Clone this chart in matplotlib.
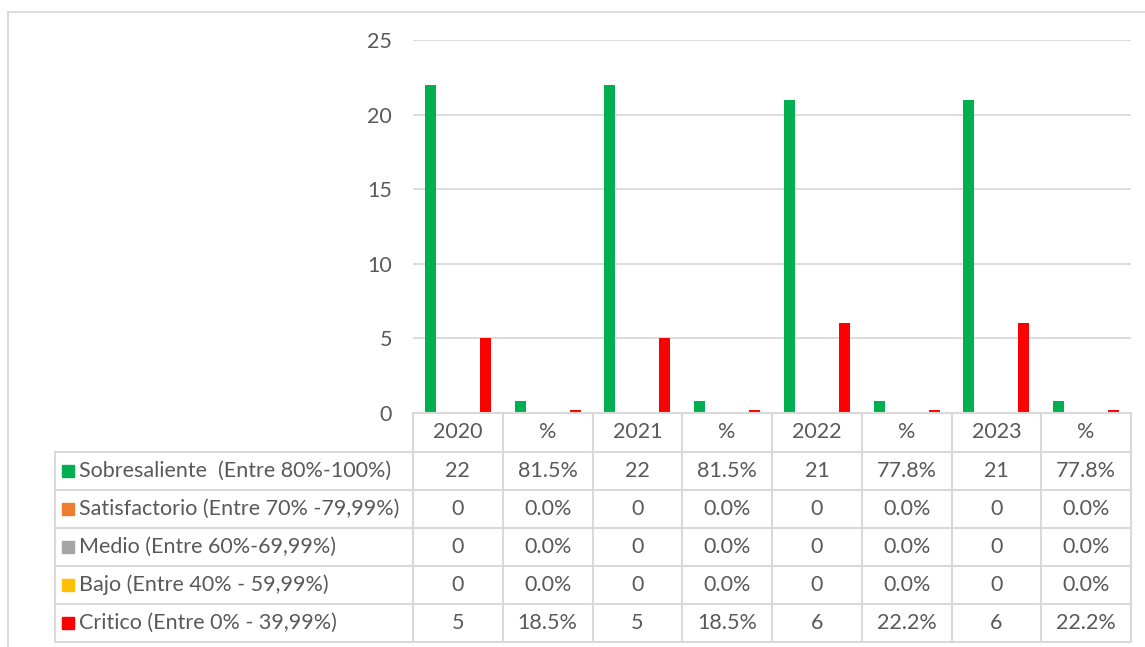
import matplotlib
matplotlib.use('Agg')
import matplotlib.pyplot as plt
from matplotlib.lines import Line2D
from matplotlib.patches import Rectangle

# datos de la tabla
columnas = ['2020', '%', '2021', '%', '2022', '%', '2023', '%']
series = [
    'Sobresaliente  (Entre 80%-100%)',
    'Satisfactorio (Entre 70% -79,99%)',
    'Medio (Entre 60%-69,99%)',
    'Bajo (Entre 40% - 59,99%)',
    'Critico (Entre 0% - 39,99%)',
]
sobresaliente = [22, 0.815, 22, 0.815, 21, 0.778, 21, 0.778]
satisfactorio = [0, 0.0, 0, 0.0, 0, 0.0, 0, 0.0]
medio = [0, 0.0, 0, 0.0, 0, 0.0, 0, 0.0]
bajo = [0, 0.0, 0, 0.0, 0, 0.0, 0, 0.0]
critico = [5, 0.185, 5, 0.185, 6, 0.222, 6, 0.222]
colores = ['#00B050', '#ED7D31', '#A5A5A5', '#FFC000', '#FF0000']

valores = [sobresaliente, satisfactorio, medio, bajo, critico]

W, H = 1145, 647
plt.rcParams['font.family'] = ['Lato', 'DejaVu Sans']
gris_texto = '#595959'
gris_linea = '#D9D9D9'
fs = 15.5

fig = plt.figure(figsize=(W / 100, H / 100), dpi=100)

def fx(x):
    return x / W

def fy(y):
    return 1 - y / H

# area del grafico
x0, x1 = 413, 1131
y_top, y_cero = 40, 413
ax = fig.add_axes([fx(x0), fy(y_cero), fx(x1) - fx(x0), fy(y_top) - fy(y_cero)])

n = len(columnas)
slot = 13.75 / ((x1 - x0) / n)
ancho = 11 / ((x1 - x0) / n)
for j, vals in enumerate(valores):
    xs = [i + (j - 2) * slot for i in range(n)]
    ax.bar(xs, vals, width=ancho, color=colores[j], zorder=3)

ax.set_xlim(-0.5, n - 0.5)
ax.set_ylim(0, 25)
ax.set_yticks(range(0, 26, 5))
ax.set_xticks([])
ax.tick_params(axis='y', length=0, pad=15, labelsize=fs, labelcolor=gris_texto)
ax.grid(axis='y', color=gris_linea, linewidth=1.3, zorder=0)
for s in ax.spines.values():
    s.set_visible(False)

# tabla de datos
filas_y = [413, 452, 490, 528, 566, 604, 642]
x_leyenda = 55
paso = (x1 - x0) / n
lw = 1.5

def linea(xa, ya, xb, yb):
    fig.add_artist(Line2D([fx(xa), fx(xb)], [fy(ya), fy(yb)], color=gris_linea,
                          linewidth=lw, transform=fig.transFigure))

# lineas horizontales
linea(x0, filas_y[0], x1, filas_y[0])
for y in filas_y[1:]:
    linea(x_leyenda, y, x1, y)
# lineas verticales
for i in range(n + 1):
    linea(x0 + i * paso, filas_y[0], x0 + i * paso, filas_y[-1])
linea(x_leyenda, filas_y[1], x_leyenda, filas_y[-1])

# encabezados
for i, c in enumerate(columnas):
    fig.text(fx(x0 + (i + 0.5) * paso), fy((filas_y[0] + filas_y[1]) / 2), c,
             ha='center', va='center', fontsize=fs, color=gris_texto)

# filas
for j, nombre in enumerate(series):
    yc = (filas_y[j + 1] + filas_y[j + 2]) / 2
    fig.add_artist(Rectangle((fx(62), fy(yc + 6)), fx(12), 12 / H,
                             color=colores[j], transform=fig.transFigure))
    fig.text(fx(79), fy(yc), nombre, ha='left', va='center', fontsize=fs,
             color=gris_texto)
    for i, c in enumerate(columnas):
        v = valores[j][i]
        if c == '%':
            txt = f'{v * 100:.1f}%'
        else:
            txt = f'{v:g}'
        fig.text(fx(x0 + (i + 0.5) * paso), fy(yc), txt, ha='center', va='center',
                 fontsize=fs, color=gris_texto)

# borde del grafico
fig.add_artist(Line2D([fx(8), fx(8)], [fy(12), fy(H + 5)], color=gris_linea,
                      linewidth=1.3, transform=fig.transFigure))
fig.add_artist(Line2D([fx(8), fx(W + 5)], [fy(12), fy(12)], color=gris_linea,
                      linewidth=1.3, transform=fig.transFigure))

fig.savefig('out.png', dpi=100)
